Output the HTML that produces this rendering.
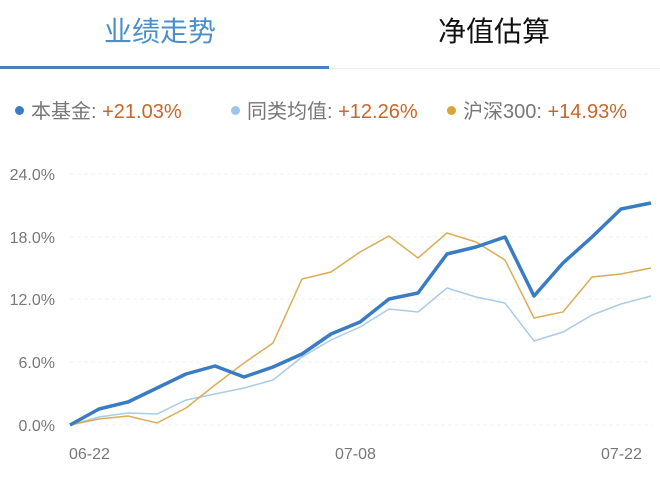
<!DOCTYPE html>
<html><head><meta charset="utf-8"><style>
body{margin:0;width:660px;height:477px;background:#fff;overflow:hidden;font-family:"Liberation Sans","Noto Sans CJK SC",sans-serif;position:relative}
.t{position:absolute;font-size:28px;top:10px}
.lg{position:absolute;top:95px;font-size:20px;color:#777;white-space:nowrap}
.lg b{font-weight:normal;color:#c8662a}
.d{display:inline-block;width:9px;height:9px;border-radius:50%;margin-right:7px;vertical-align:middle;position:relative;top:-2px}
</style></head><body>
<div class="t" style="left:104px;color:#4a8fc8">业绩走势</div>
<div class="t" style="left:438px;color:#111">净值估算</div>
<div style="position:absolute;left:0;top:68px;width:660px;height:1px;background:#eee"></div>
<div style="position:absolute;left:0;top:66px;width:329px;height:3px;background:#4a7fc0"></div>
<div class="lg" style="left:15px"><span class="d" style="background:#3a7cc4"></span>本基金: <b>+21.03%</b></div>
<div class="lg" style="left:231px"><span class="d" style="background:#9ec4e8"></span>同类均值: <b>+12.26%</b></div>
<div class="lg" style="left:447px"><span class="d" style="background:#d9a53a"></span>沪深300: <b>+14.93%</b></div>
<svg width="660" height="477" style="position:absolute;left:0;top:0" font-family="Liberation Sans,sans-serif">
<g stroke="#f0f0f0" stroke-width="1" stroke-dasharray="4,3">
<line x1="70" x2="652" y1="174" y2="174"/><line x1="70" x2="652" y1="237" y2="237"/><line x1="70" x2="652" y1="299" y2="299"/><line x1="70" x2="652" y1="362" y2="362"/><line x1="70" x2="652" y1="425" y2="425"/></g>
<g fill="#777" font-size="16" text-anchor="end">
<text x="55" y="180">24.0%</text><text x="55" y="243">18.0%</text><text x="55" y="305">12.0%</text><text x="55" y="368">6.0%</text><text x="55" y="431">0.0%</text></g>
<g fill="#777" font-size="16">
<text x="69" y="459">06-22</text><text x="335" y="459">07-08</text><text x="601" y="459">07-22</text></g>
<polyline fill="none" stroke="#a9cbe8" stroke-width="1.5" points="70,425 99,417 128,413 157,414 186,400 215,394 244,388 273,380 302,357 331,340 360,327 389,309 418,312 447,288 476,297 505,303 534,341 563,332 592,315 621,304 651,296"/>
<polyline fill="none" stroke="#d9ad55" stroke-width="1.5" points="70,425 99,419 128,416 157,423 186,408 215,385 244,363 273,343 302,279 331,272 360,252 389,236 418,258 447,233 476,242 505,260 534,318 563,312 592,277 621,274 651,268"/>
<polyline fill="none" stroke="#3a7cc4" stroke-width="3.5" stroke-linejoin="round" points="70,425 99,409 128,402 157,388 186,374 215,366 244,377 273,367 302,354 331,334 360,322 389,299 418,293 447,254 476,247 505,237 534,296 563,263 592,237 621,209 651,203"/>
</svg>
</body></html>
